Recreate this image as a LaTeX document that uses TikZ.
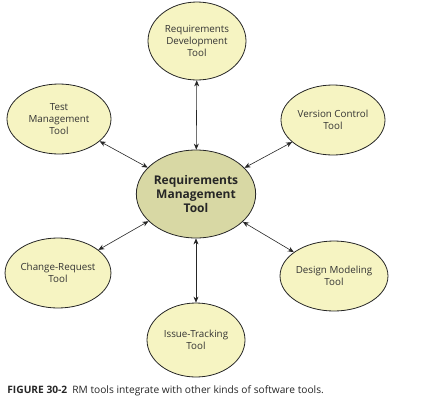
\documentclass[tikz,border=0pt]{standalone}
\usepackage{fontspec}
\setmainfont{Open Sans}
\usepackage{tikz}
\usetikzlibrary{shapes.geometric,arrows.meta}
\definecolor{toolfill}{HTML}{F6F4C2}
\definecolor{rmfill}{HTML}{D8D8A4}
\begin{document}
\begin{tikzpicture}[x=1pt, y=-1pt, thick,
    tool/.style = {draw=black!85, ellipse, fill=toolfill, minimum width=104pt, minimum height=70pt, inner sep=0pt, align=center, font=\fontsize{9.8}{11.8}\selectfont, text=black!80},
    rm/.style = {draw=black!85, ellipse, fill=rmfill, minimum width=112pt, minimum height=88pt, inner sep=0pt, align=center, font=\fontsize{12}{14}\selectfont\bfseries, text=black!85},
    link/.style = {{Stealth[length=6pt,width=5pt]}-{Stealth[length=6pt,width=5pt]}, black!85, semithick}]
    \useasboundingbox (0,0) rectangle (445,408);
    \node[rm] (rm) at (196,194) {Requirements\\Management\\Tool};
    \node[tool, minimum width=98pt, minimum height=78pt] (dev) at (197,41) {Requirements\\Development\\Tool};
    \node[tool] (test) at (59,119) {Test\\Management\\Tool};
    \node[tool] (vc) at (333,120) {Version Control\\Tool};
    \node[tool] (cr) at (58,273) {Change-Request\\Tool};
    \node[tool] (dm) at (334,276) {Design Modeling\\Tool};
    \node[tool, minimum width=98pt, minimum height=74pt] (it) at (196,340) {Issue-Tracking\\Tool};

\draw[link] (rm) -- (dev);
\draw[link] (rm) -- (test);
\draw[link] (rm) -- (vc);
\draw[link] (rm) -- (cr);
\draw[link] (rm) -- (dm);
\draw[link] (rm) -- (it);

    \node[anchor=west, font=\fontsize{10.2}{12}\selectfont, text=black!85, inner sep=0pt] (cap) at (7,391) {\textbf{FIGURE 30-2}\enspace RM tools integrate with other kinds of software tools.};
\end{tikzpicture}
\end{document}
